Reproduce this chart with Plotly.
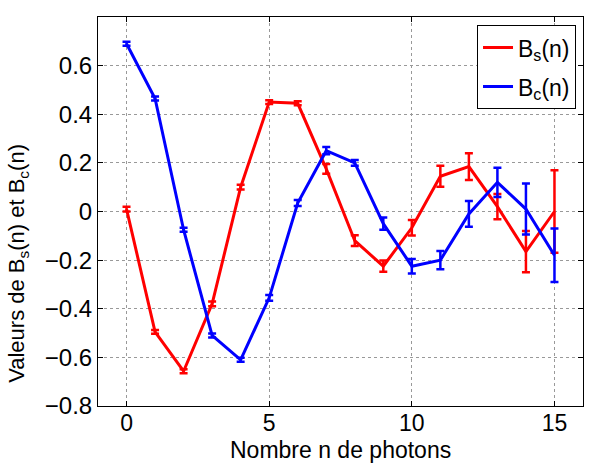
import plotly.graph_objects as go

n = list(range(16))
bs = [0.01, -0.495, -0.657, -0.38, 0.10, 0.45, 0.445, 0.175, -0.12, -0.225, -0.067, 0.145, 0.185, 0.02, -0.165, 0.0]
bs_err = [0.01, 0.008, 0.008, 0.01, 0.01, 0.008, 0.008, 0.02, 0.022, 0.023, 0.032, 0.043, 0.055, 0.052, 0.085, 0.17]
bc = [0.69, 0.465, -0.075, -0.51, -0.61, -0.355, 0.035, 0.25, 0.20, -0.05, -0.225, -0.20, -0.01, 0.12, 0.01, -0.18]
bc_err = [0.008, 0.008, 0.008, 0.008, 0.008, 0.012, 0.012, 0.015, 0.012, 0.025, 0.03, 0.038, 0.053, 0.06, 0.105, 0.11]

x_ticks = [0, 5, 10, 15]
y_ticks = [-0.8, -0.6, -0.4, -0.2, 0, 0.2, 0.4, 0.6]
y_labels = ["\u22120.8", "\u22120.6", "\u22120.4", "\u22120.2", "0", "0.2", "0.4", "0.6"]

fig = go.Figure()
fig.add_trace(go.Scatter(
    x=n, y=bs, mode="lines", name="B<sub>s</sub>(n)", legendgroup="s",
    line=dict(color="#ff0000", width=3),
    error_y=dict(type="data", array=bs_err, color="#ff0000", thickness=2.5, width=4),
))
fig.add_trace(go.Scatter(
    x=n, y=bc, mode="lines", name="B<sub>c</sub>(n)", legendgroup="c",
    line=dict(color="#0000ff", width=3),
    error_y=dict(type="data", array=bc_err, color="#0000ff", thickness=2.5, width=4),
))

axis_common = dict(
    showline=True, linecolor="black", linewidth=1, mirror="ticks",
    ticks="inside", ticklen=5, tickcolor="black",
    showgrid=True, gridcolor="#999999", griddash="dot", gridwidth=1,
    zeroline=False,
)

fig.update_layout(
    width=590, height=465,
    margin=dict(l=98, r=7, t=17, b=59),
    paper_bgcolor="white", plot_bgcolor="white",
    font=dict(family="Liberation Sans, Arial, sans-serif", color="black"),
    xaxis=dict(range=[-1, 16], tickvals=x_ticks, ticklabelstandoff=-4,
               tickfont=dict(size=23, color="black"), **axis_common),
    yaxis=dict(range=[-0.8, 0.8], tickvals=y_ticks, ticktext=y_labels,
               tickfont=dict(size=24, color="black"), **axis_common),
    legend=dict(x=0.9856, y=0.979, xanchor="right", yanchor="top",
                bgcolor="white", bordercolor="black", borderwidth=1,
                font=dict(size=23), tracegroupgap=6),
    showlegend=True,
    annotations=[
        dict(
            text="Valeurs de B<sub>s</sub>(n) et B<sub>c</sub>(n)",
            xref="paper", yref="paper", x=-0.165, y=0.368,
            xanchor="center", yanchor="middle", textangle=-90,
            showarrow=False, font=dict(size=22, color="black"),
        ),
        dict(
            text="Nombre n de photons",
            xref="paper", yref="paper", x=0.5, y=-0.1517,
            xanchor="center", yanchor="bottom",
            showarrow=False, font=dict(size=23, color="black"),
        ),
    ],
)

fig.write_html("out.html")
